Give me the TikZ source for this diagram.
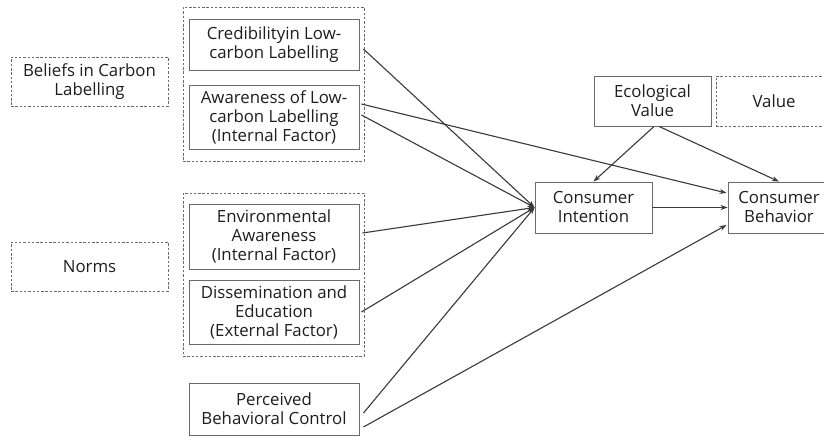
\documentclass[tikz,border=0pt]{standalone}
\usepackage{fontspec}
\setmainfont{Open Sans}
\usetikzlibrary{arrows.meta,calc}
\definecolor{boxline}{HTML}{6A6A6A}
\definecolor{linkline}{HTML}{3A3A3A}
\definecolor{txt}{HTML}{1E1E1E}
\tikzset{
  every node/.style={font=\fontsize{16.8}{19}\selectfont, text=txt, align=center, inner sep=0pt},
  solidbox/.style={draw=boxline, line width=0.9pt, fill=white},
  dashbox/.style={draw=boxline, line width=0.8pt, dashed, dash pattern=on 2.5pt off 1.8pt},
  link/.style={draw=linkline, line width=1.1pt, -{Stealth[length=7pt,width=5pt]}}
}
\begin{document}
\begin{tikzpicture}[x=1pt,y=-1pt]
\clip (0,0) rectangle (824,446);
\fill[white] (0,0) rectangle (824,446);

% construct groups (dashed frames)
\node[dashbox, minimum width=157, minimum height=49] (beliefs) at (89.5,81.5) {Beliefs in Carbon\\Labelling};
\node[dashbox, minimum width=157, minimum height=49] (norms) at (89.5,266.5) {Norms};
\node[dashbox, minimum width=181, minimum height=154] (grpA) at (273.5,84) {};
\node[dashbox, minimum width=181, minimum height=163] (grpB) at (273.5,274.5) {};
\node[dashbox, minimum width=116, minimum height=50] (value) at (774,101) {Value};

% measured variables
\node[solidbox, minimum width=170, minimum height=51] (cred) at (274,44.5) {Credibilityin Low-\\carbon Labelling};
\node[solidbox, minimum width=170, minimum height=64] (aware) at (274,117) {Awareness of Low-\\carbon Labelling\\(Internal Factor)};
\node[solidbox, minimum width=170, minimum height=65] (env) at (274,236.5) {Environmental\\Awareness\\(Internal Factor)};
\node[solidbox, minimum width=170, minimum height=64] (diss) at (274,312) {Dissemination and\\Education\\(External Factor)};
\node[solidbox, minimum width=170, minimum height=52] (pbc) at (274,409) {Perceived\\Behavioral Control};
\node[solidbox, minimum width=117, minimum height=50] (eco) at (652.5,101) {Ecological\\Value};
\node[solidbox, minimum width=117, minimum height=51] (ci) at (593.5,207.5) {Consumer\\Intention};
\node[solidbox, minimum width=102, minimum height=51] (cb) at (779,207.5) {Consumer\\Behavior};

% paths into consumer intention
\draw[link] ($(cred.east)+(4,4.5)$) -- (ci.west);
\draw[link] ($(aware.east)+(2,-2)$) -- (ci.west);
\draw[link] ($(env.east)+(3,-3.5)$) -- (ci.west);
\draw[link] ($(diss.east)+(2,0)$) -- (ci.west);
\draw[link] ($(pbc.east)+(4,4)$) -- (ci.west);
\draw[link] ($(eco.south)+(1.5,0)$) -- (ci.north);

% paths into consumer behavior
\draw[link] ($(aware.east)+(2,-13)$) -- ($(cb.west)+(-1,-14.5)$);
\draw[link] (ci.east) -- (cb.west);
\draw[link] ($(pbc.east)+(4,18)$) -- ($(cb.west)+(-1,17.5)$);
\draw[link] ($(eco.south)+(6.5,0)$) -- (cb.north);
\end{tikzpicture}
\end{document}
